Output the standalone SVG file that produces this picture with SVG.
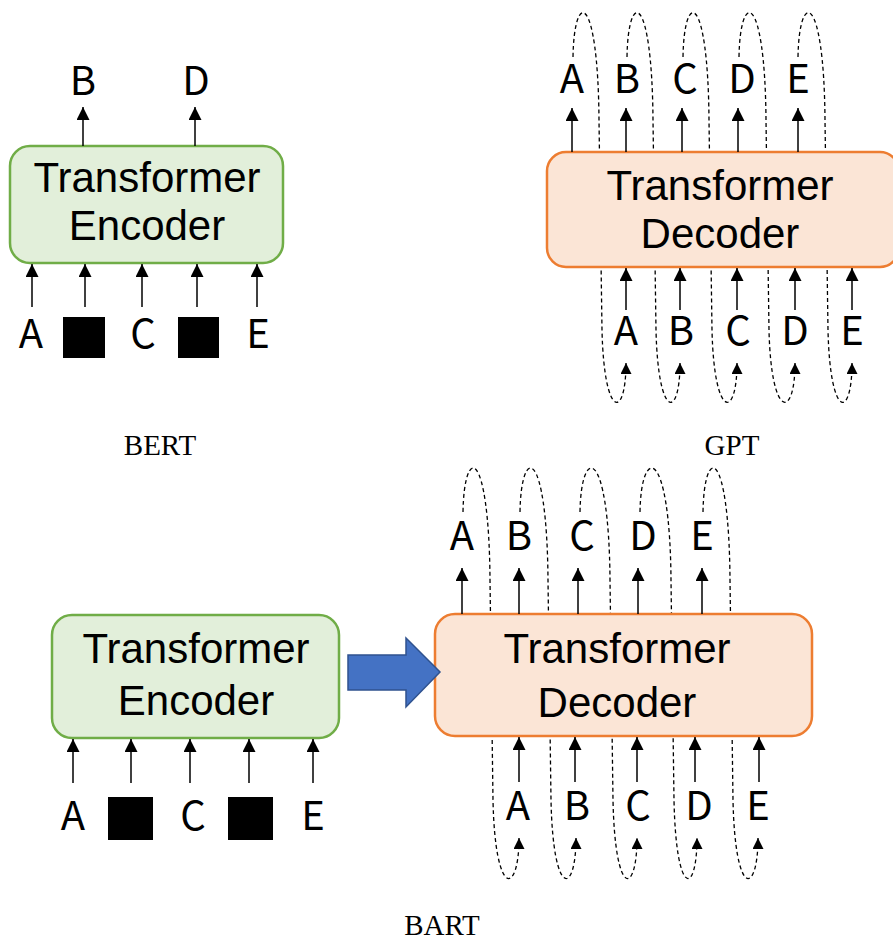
<svg xmlns="http://www.w3.org/2000/svg" width="893" height="941" viewBox="0 0 893 941">
  <style>
    .enc { fill: #E2EFDA; stroke: #70AD47; stroke-width: 2.5; }
    .dec { fill: #FBE5D6; stroke: #ED7D31; stroke-width: 2.5; }
    .box-label { font-family: "Liberation Sans", Arial, sans-serif; font-size: 42px; fill: #000; text-anchor: middle; }
    .tok { font-family: "Noto Sans CJK JP", "DejaVu Sans", sans-serif; font-size: 40px; fill: #000; text-anchor: middle; }
    .caption { font-family: "Liberation Serif", "DejaVu Serif", serif; font-size: 29px; fill: #000; text-anchor: middle; }
    .flow { stroke: #000; stroke-width: 1.5; fill: none; marker-end: url(#head); }
    .loop { stroke: #000; stroke-width: 1.3; fill: none; stroke-dasharray: 4 3; marker-end: url(#head-small); }
    .mask { fill: #000; }
  </style>
  <defs>
    <marker id="head" markerUnits="userSpaceOnUse" markerWidth="13" markerHeight="13" refX="13" refY="6.5" orient="auto">
      <path d="M0,0 L13,6.5 L0,13 z" fill="#000"/>
    </marker>
    <marker id="head-small" markerUnits="userSpaceOnUse" markerWidth="11" markerHeight="11" refX="11" refY="5.5" orient="auto">
      <path d="M0,0 L11,5.5 L0,11 z" fill="#000"/>
    </marker>
  </defs>

  <!-- feedback loops: each generated token is fed back as the next input -->
  <g id="connectors">
    <g id="gpt-loops">
      <path class="loop" d="M573,57 C574,-10 598,-10 599,120 L602,330 C604,420 626,420 626,363"/>
      <path class="loop" d="M627,57 C628,-10 652,-10 653,120 L656,330 C658,420 680,420 680,363"/>
      <path class="loop" d="M683,57 C684,-10 708,-10 709,120 L712,330 C714,420 737,420 737,363"/>
      <path class="loop" d="M739,57 C740,-10 765,-10 766,120 L769,330 C771,420 795,420 795,363"/>
      <path class="loop" d="M798,57 C799,-10 824,-10 825,120 L828,330 C830,420 852,420 852,363"/>
    </g>
    <g id="bart-loops">
      <path class="loop" d="M463,512 C464,445 489,445 490,580 L493,800 C495,900 519,895 519,838"/>
      <path class="loop" d="M520,512 C521,445 547,445 548,580 L551,800 C553,900 576,895 576,838"/>
      <path class="loop" d="M580,512 C581,445 609,445 610,580 L613,800 C615,900 637,895 637,838"/>
      <path class="loop" d="M640,512 C641,445 670,445 671,580 L674,800 C676,900 697,895 697,838"/>
      <path class="loop" d="M703,512 C704,445 729,445 730,580 L733,800 C735,900 758,895 758,838"/>
    </g>
  </g>

  <!-- BERT -->
  <g id="bert-encoder">
    <rect class="enc" x="10" y="146" width="273" height="117" rx="20"/>
    <text class="box-label"><tspan x="147" y="192">Transformer</tspan><tspan x="147" y="240">Encoder</tspan></text>
  </g>

  <!-- GPT (block runs past the right edge) -->
  <g id="gpt-decoder">
    <rect class="dec" x="547" y="152" width="352" height="115" rx="19"/>
    <text class="box-label"><tspan x="720" y="200">Transformer</tspan><tspan x="720" y="248">Decoder</tspan></text>
  </g>

  <!-- BART -->
  <g id="bart-encoder">
    <rect class="enc" x="52" y="615" width="287" height="123" rx="20"/>
    <text class="box-label"><tspan x="196" y="663">Transformer</tspan><tspan x="196" y="715">Encoder</tspan></text>
  </g>
  <g id="bart-decoder">
    <rect class="dec" x="435" y="614" width="377" height="122" rx="20"/>
    <text class="box-label"><tspan x="617" y="663">Transformer</tspan><tspan x="617" y="717">Decoder</tspan></text>
  </g>
  <g id="bart-handoff">
    <path d="M348,655 L406,655 L406,638 L440,672 L406,707 L406,690 L348,690 z" fill="#4472C4" stroke="#2F528F" stroke-width="1.5"/>
  </g>

  <!-- token arrows into and out of each block -->
  <g id="flows">
    <!-- BERT outputs and inputs -->
    <line class="flow" x1="83" y1="146" x2="83" y2="107"/>
    <line class="flow" x1="195" y1="146" x2="195" y2="107"/>
    <line class="flow" x1="32" y1="307" x2="32" y2="264"/>
    <line class="flow" x1="85" y1="307" x2="85" y2="264"/>
    <line class="flow" x1="142" y1="307" x2="142" y2="264"/>
    <line class="flow" x1="197" y1="307" x2="197" y2="264"/>
    <line class="flow" x1="257" y1="307" x2="257" y2="264"/>
    <!-- GPT outputs and inputs -->
    <line class="flow" x1="572" y1="152" x2="572" y2="108"/>
    <line class="flow" x1="626" y1="152" x2="626" y2="108"/>
    <line class="flow" x1="682" y1="152" x2="682" y2="108"/>
    <line class="flow" x1="738" y1="152" x2="738" y2="108"/>
    <line class="flow" x1="798" y1="152" x2="798" y2="108"/>
    <line class="flow" x1="626" y1="310" x2="626" y2="268"/>
    <line class="flow" x1="680" y1="310" x2="680" y2="268"/>
    <line class="flow" x1="737" y1="310" x2="737" y2="268"/>
    <line class="flow" x1="795" y1="310" x2="795" y2="268"/>
    <line class="flow" x1="852" y1="310" x2="852" y2="268"/>
    <!-- BART encoder inputs -->
    <line class="flow" x1="73" y1="783" x2="73" y2="739"/>
    <line class="flow" x1="131" y1="783" x2="131" y2="739"/>
    <line class="flow" x1="190" y1="783" x2="190" y2="739"/>
    <line class="flow" x1="249" y1="783" x2="249" y2="739"/>
    <line class="flow" x1="313" y1="783" x2="313" y2="739"/>
    <!-- BART decoder outputs and inputs -->
    <line class="flow" x1="462" y1="614" x2="462" y2="568"/>
    <line class="flow" x1="519" y1="614" x2="519" y2="568"/>
    <line class="flow" x1="578" y1="614" x2="578" y2="568"/>
    <line class="flow" x1="638" y1="614" x2="638" y2="568"/>
    <line class="flow" x1="702" y1="614" x2="702" y2="568"/>
    <line class="flow" x1="519" y1="782" x2="519" y2="737"/>
    <line class="flow" x1="575" y1="782" x2="575" y2="737"/>
    <line class="flow" x1="637" y1="782" x2="637" y2="737"/>
    <line class="flow" x1="695" y1="782" x2="695" y2="737"/>
    <line class="flow" x1="759" y1="782" x2="759" y2="737"/>
  </g>

  <!-- tokens -->
  <g id="bert-tokens">
    <text id="bert-out-b" class="tok" x="83" y="95">B</text>
    <text id="bert-out-d" class="tok" x="196" y="95">D</text>
    <text id="bert-in-a" class="tok" x="31" y="348">A</text>
    <rect id="bert-in-mask1" class="mask" x="63" y="317" width="42" height="41"/>
    <text id="bert-in-c" class="tok" x="143" y="348">C</text>
    <rect id="bert-in-mask2" class="mask" x="178" y="317" width="41" height="41"/>
    <text id="bert-in-e" class="tok" x="258" y="348">E</text>
  </g>
  <g id="gpt-tokens">
    <text id="gpt-out-a" class="tok" x="572" y="93">A</text>
    <text id="gpt-out-b" class="tok" x="627" y="93">B</text>
    <text id="gpt-out-c" class="tok" x="685" y="93">C</text>
    <text id="gpt-out-d" class="tok" x="742" y="93">D</text>
    <text id="gpt-out-e" class="tok" x="798" y="93">E</text>
    <text id="gpt-in-a" class="tok" x="626" y="345">A</text>
    <text id="gpt-in-b" class="tok" x="681" y="345">B</text>
    <text id="gpt-in-c" class="tok" x="738" y="345">C</text>
    <text id="gpt-in-d" class="tok" x="795" y="345">D</text>
    <text id="gpt-in-e" class="tok" x="852" y="345">E</text>
  </g>
  <g id="bart-tokens">
    <text id="bart-enc-a" class="tok" x="73" y="830">A</text>
    <rect id="bart-enc-mask1" class="mask" x="108" y="797" width="45" height="43"/>
    <text id="bart-enc-c" class="tok" x="193" y="830">C</text>
    <rect id="bart-enc-mask2" class="mask" x="228" y="797" width="45" height="43"/>
    <text id="bart-enc-e" class="tok" x="313" y="830">E</text>
    <text id="bart-out-a" class="tok" x="462" y="550">A</text>
    <text id="bart-out-b" class="tok" x="519" y="550">B</text>
    <text id="bart-out-c" class="tok" x="582" y="550">C</text>
    <text id="bart-out-d" class="tok" x="643" y="550">D</text>
    <text id="bart-out-e" class="tok" x="702" y="550">E</text>
    <text id="bart-in-a" class="tok" x="518" y="820">A</text>
    <text id="bart-in-b" class="tok" x="577" y="820">B</text>
    <text id="bart-in-c" class="tok" x="638" y="820">C</text>
    <text id="bart-in-d" class="tok" x="699" y="820">D</text>
    <text id="bart-in-e" class="tok" x="758" y="820">E</text>
  </g>

  <!-- captions -->
  <g id="captions">
    <text class="caption" x="160" y="455">BERT</text>
    <text class="caption" x="732" y="455">GPT</text>
    <text class="caption" x="442" y="935">BART</text>
  </g>
</svg>
